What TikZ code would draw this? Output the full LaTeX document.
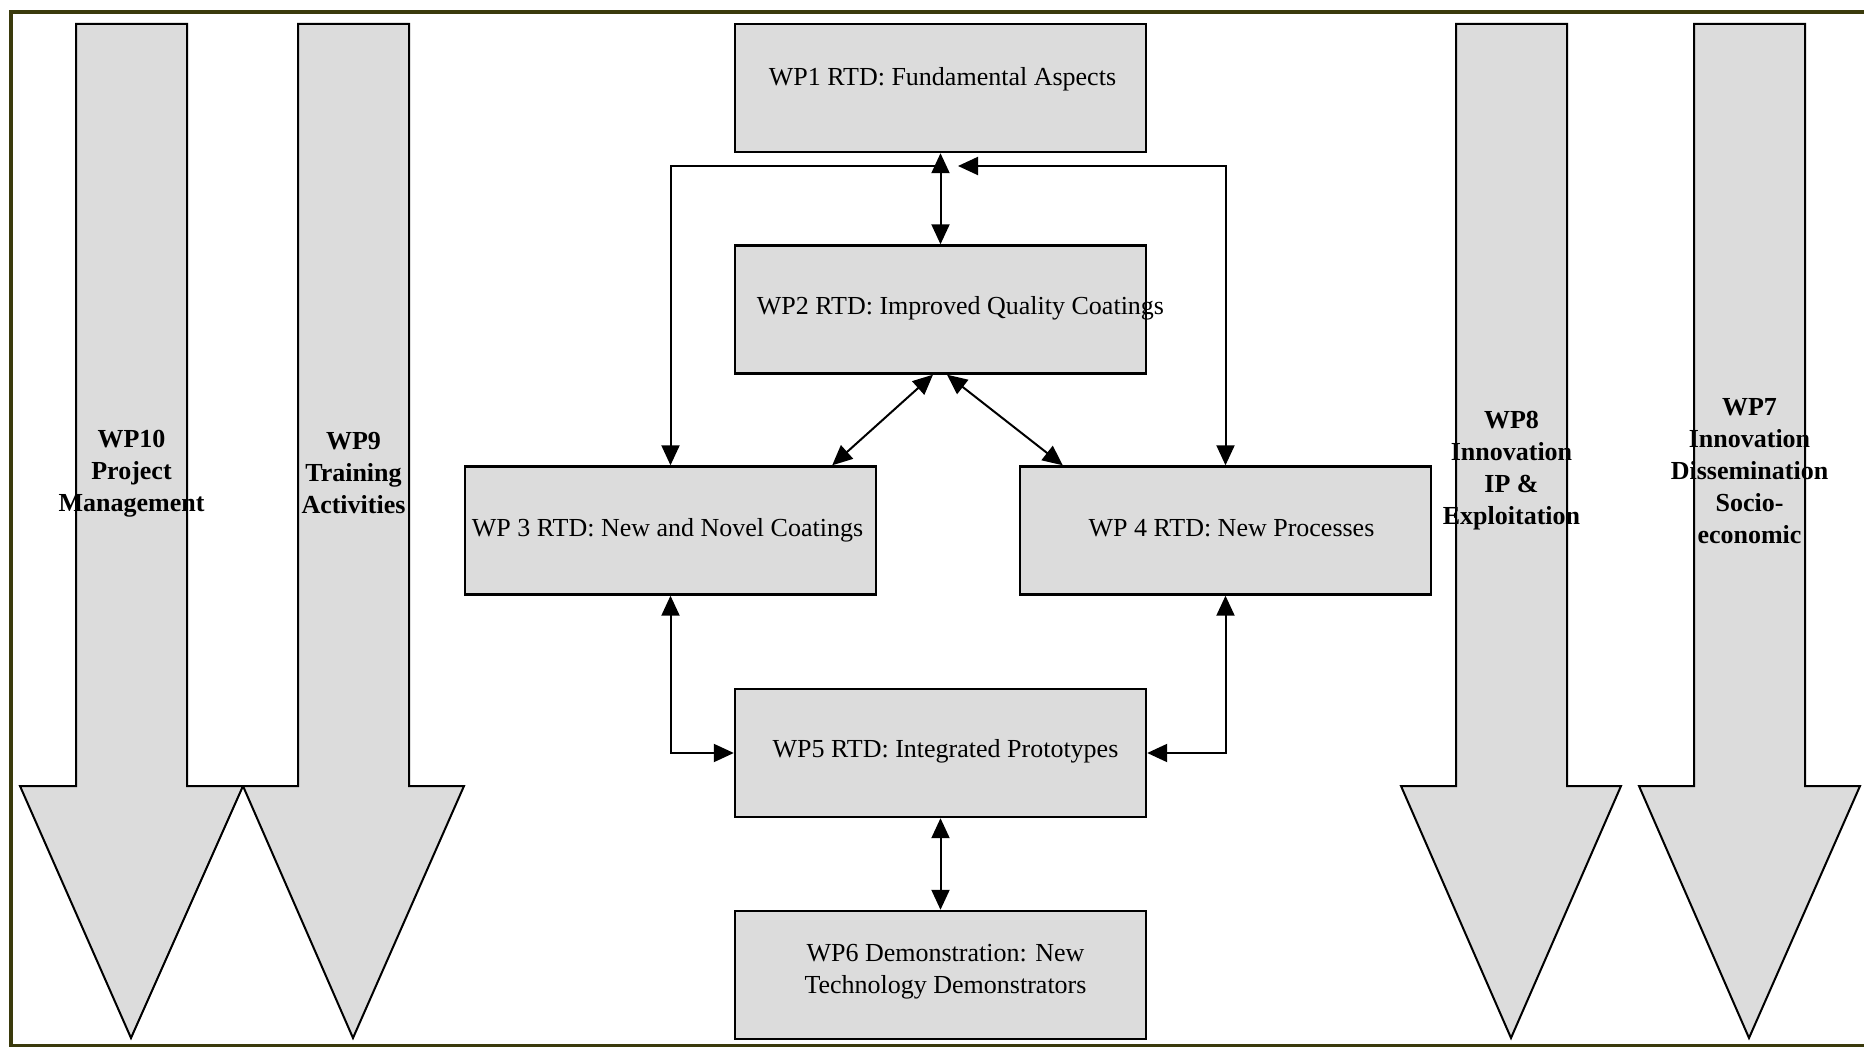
\documentclass[tikz,border=0pt]{standalone}
\usepackage{fontspec}
\setmainfont{Liberation Serif}
\usetikzlibrary{arrows.meta}
\definecolor{boxgray}{RGB}{220,220,220}
\definecolor{frameolive}{RGB}{58,58,12}
\begin{document}
\begin{tikzpicture}[x=0.5pt,y=-0.5pt,
  wpbox/.style={draw=black, fill=boxgray, line width=1.2pt, minimum width=205.5pt, minimum height=64pt, inner sep=0pt},
  bigarrow/.style={draw=black, fill=boxgray, line width=1pt, line join=miter},
  arrowlabel/.style={font=\fontsize{13}{16}\selectfont\bfseries, align=center, inner sep=0pt},
  boxtext/.style={font=\fontsize{13}{16}\selectfont, align=center, inner sep=0pt},
  tipA/.tip={Triangle[length=10pt,width=9pt]},
  conn/.style={line width=1pt, tipA-tipA},
  connend/.style={line width=1pt, -tipA},
]
\useasboundingbox (0,0) rectangle (1864,1047);
\fill[white] (0,0) rectangle (1864,1047);
% frame
\draw[frameolive, line width=2pt] (1864,12) -- (11,12) -- (11,1046) -- (1864,1046);

% big down arrows
\draw[bigarrow] (76,24) -- (187,24) -- (187,786) -- (243,786) -- (131,1038) -- (20,786) -- (76,786) -- cycle;
\draw[bigarrow] (298,24) -- (409,24) -- (409,786) -- (464,786) -- (353,1038) -- (243,786) -- (298,786) -- cycle;
\draw[bigarrow] (1456,24) -- (1567,24) -- (1567,786) -- (1621,786) -- (1511,1038) -- (1401,786) -- (1456,786) -- cycle;
\draw[bigarrow] (1694,24) -- (1805,24) -- (1805,786) -- (1860,786) -- (1749,1038) -- (1639,786) -- (1694,786) -- cycle;

\node[arrowlabel] (l10) at (131.5,474) {WP10\\Project\\Management};
\node[arrowlabel] (l9) at (353.5,473) {WP9\\Training\\Activities};
\node[arrowlabel] (l8) at (1511.5,471) {WP8\\Innovation\\IP \&\\Exploitation};
\node[arrowlabel] (l7) at (1749.5,471) {WP7\\Innovation\\Dissemination\\Socio-\\economic};

% boxes
\node[wpbox, label={[boxtext, name=t1, xshift=1pt, yshift=4.3pt]center:WP1 RTD: Fundamental Aspects}] (wp1) at (940.5,88) {};
\node[wpbox, label={[boxtext, name=t2, xshift=10pt, yshift=0.7pt]center:WP2 RTD: Improved Quality Coatings}] (wp2) at (940.5,309.5) {};
\node[wpbox, label={[boxtext, name=t3, xshift=-1.5pt, yshift=0.3pt]center:WP 3 RTD: New and Novel Coatings}] (wp3) at (670.5,530.5) {};
\node[wpbox, label={[boxtext, name=t4, xshift=3pt, yshift=1pt]center:WP 4 RTD: New Processes}] (wp4) at (1225.5,530.5) {};
\node[wpbox, label={[boxtext, name=t5, xshift=2.5pt, yshift=0.8pt]center:WP5 RTD: Integrated Prototypes}] (wp5) at (940.5,753) {};
\node[wpbox, label={[boxtext, name=t6, xshift=2.5pt, yshift=1.5pt]center:WP6 Demonstration: New\\Technology Demonstrators}] (wp6) at (940.5,975) {};

% connectors
\coordinate (jl) at (940.5,166);
\coordinate (jr) at (958,166);
\draw[conn] (wp1.south) -- (wp2.north);
\draw[connend] (jl) -| (wp3.north);
\draw[conn] (jr) -| (wp4.north);
\draw[conn] ([xshift=-3.75pt]wp2.south) -- ([xshift=-22.5pt]wp3.north east);
\draw[conn] ([xshift=3.25pt]wp2.south) -- ([xshift=22pt]wp4.north west);
\draw[conn] (wp3.south) |- (wp5.west);
\draw[conn] (wp4.south) |- (wp5.east);
\draw[conn] (wp5.south) -- (wp6.north);
\end{tikzpicture}
\end{document}
